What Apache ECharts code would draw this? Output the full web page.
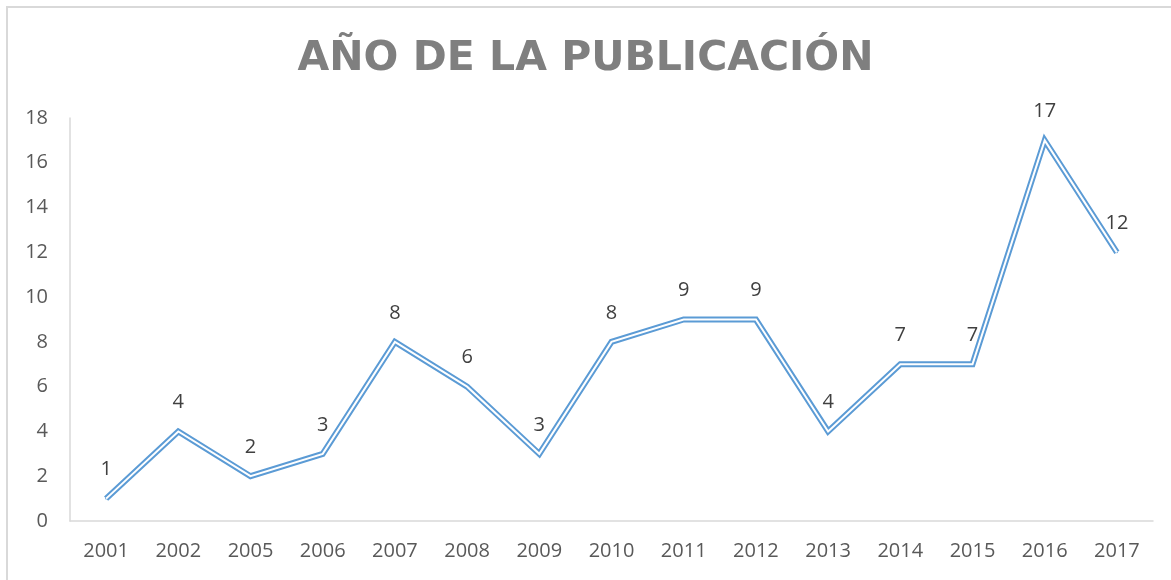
<!DOCTYPE html>
<html>
<head>
<meta charset="utf-8">
<script src="https://cdn.jsdelivr.net/npm/echarts@6/dist/echarts.min.js"></script>
<style>
    html, body { margin: 0; padding: 0; background: #fff; }
    #frame { position: absolute; left: 6px; top: 6px; width: 1180px; height: 590px; border: 2px solid #d9d9d9; box-sizing: border-box; }
    #chart { position: absolute; left: 0; top: 0; width: 1171px; height: 580px; }
</style>
</head>
<body>
<div id="frame"></div>
<div id="chart"></div>
<script>
const years = ['2001', '2002', '2005', '2006', '2007', '2008', '2009', '2010', '2011', '2012', '2013', '2014', '2015', '2016', '2017']
const publicaciones = [1, 4, 2, 3, 8, 6, 3, 8, 9, 9, 4, 7, 7, 17, 12]
const titulo = 'AÑO DE LA PUBLICACIÓN'

const lineBlue = '#5b9bd5'
const fontName = 'Open Sans'

const option = {
    animation: false,
    title: {
        text: titulo,
        left: 'center',
        top: 34,
        textStyle: {
            fontFamily: 'DejaVu Sans',
            fontSize: 41,
            fontWeight: 'bold',
            color: '#7f7f7f'
        }
    },
    grid: {
        left: 70,
        right: 18,
        top: 118,
        bottom: 59,
        containLabel: false,
        outerBoundsMode: 'none'
    },
    xAxis: {
        type: 'category',
        data: years,
        boundaryGap: true,
        axisLine: { lineStyle: { color: '#d9d9d9', width: 1.5 } },
        axisTick: { show: false },
        axisLabel: { color: '#595959', fontFamily: fontName, fontSize: 20, margin: 20 }
    },
    yAxis: {
        type: 'value',
        min: 0,
        max: 18,
        interval: 2,
        axisLine: { show: true, lineStyle: { color: '#d9d9d9', width: 1.5 } },
        axisTick: { show: false },
        splitLine: { show: false },
        axisLabel: { color: '#595959', fontFamily: fontName, fontSize: 20, margin: 22 }
    },
    series: [
        {
            // outer blue stroke of the double line
            type: 'line',
            data: publicaciones,
            symbol: 'circle',
            symbolSize: 2,
            showSymbol: true,
            itemStyle: { color: lineBlue, borderWidth: 0 },
            lineStyle: { color: lineBlue, width: 6, cap: 'butt', join: 'miter' },
            label: {
                show: true,
                position: 'top',
                distance: 18,
                color: '#404040',
                fontFamily: fontName,
                fontSize: 20
            },
            z: 2
        },
        {
            // white core gives the double-line look
            type: 'line',
            data: publicaciones,
            symbol: 'none',
            lineStyle: { color: '#ffffff', width: 2, cap: 'butt', join: 'miter' },
            silent: true,
            z: 3
        }
    ]
}

const chart = echarts.init(document.getElementById('chart'))
chart.setOption(option)
</script>
</body>
</html>
